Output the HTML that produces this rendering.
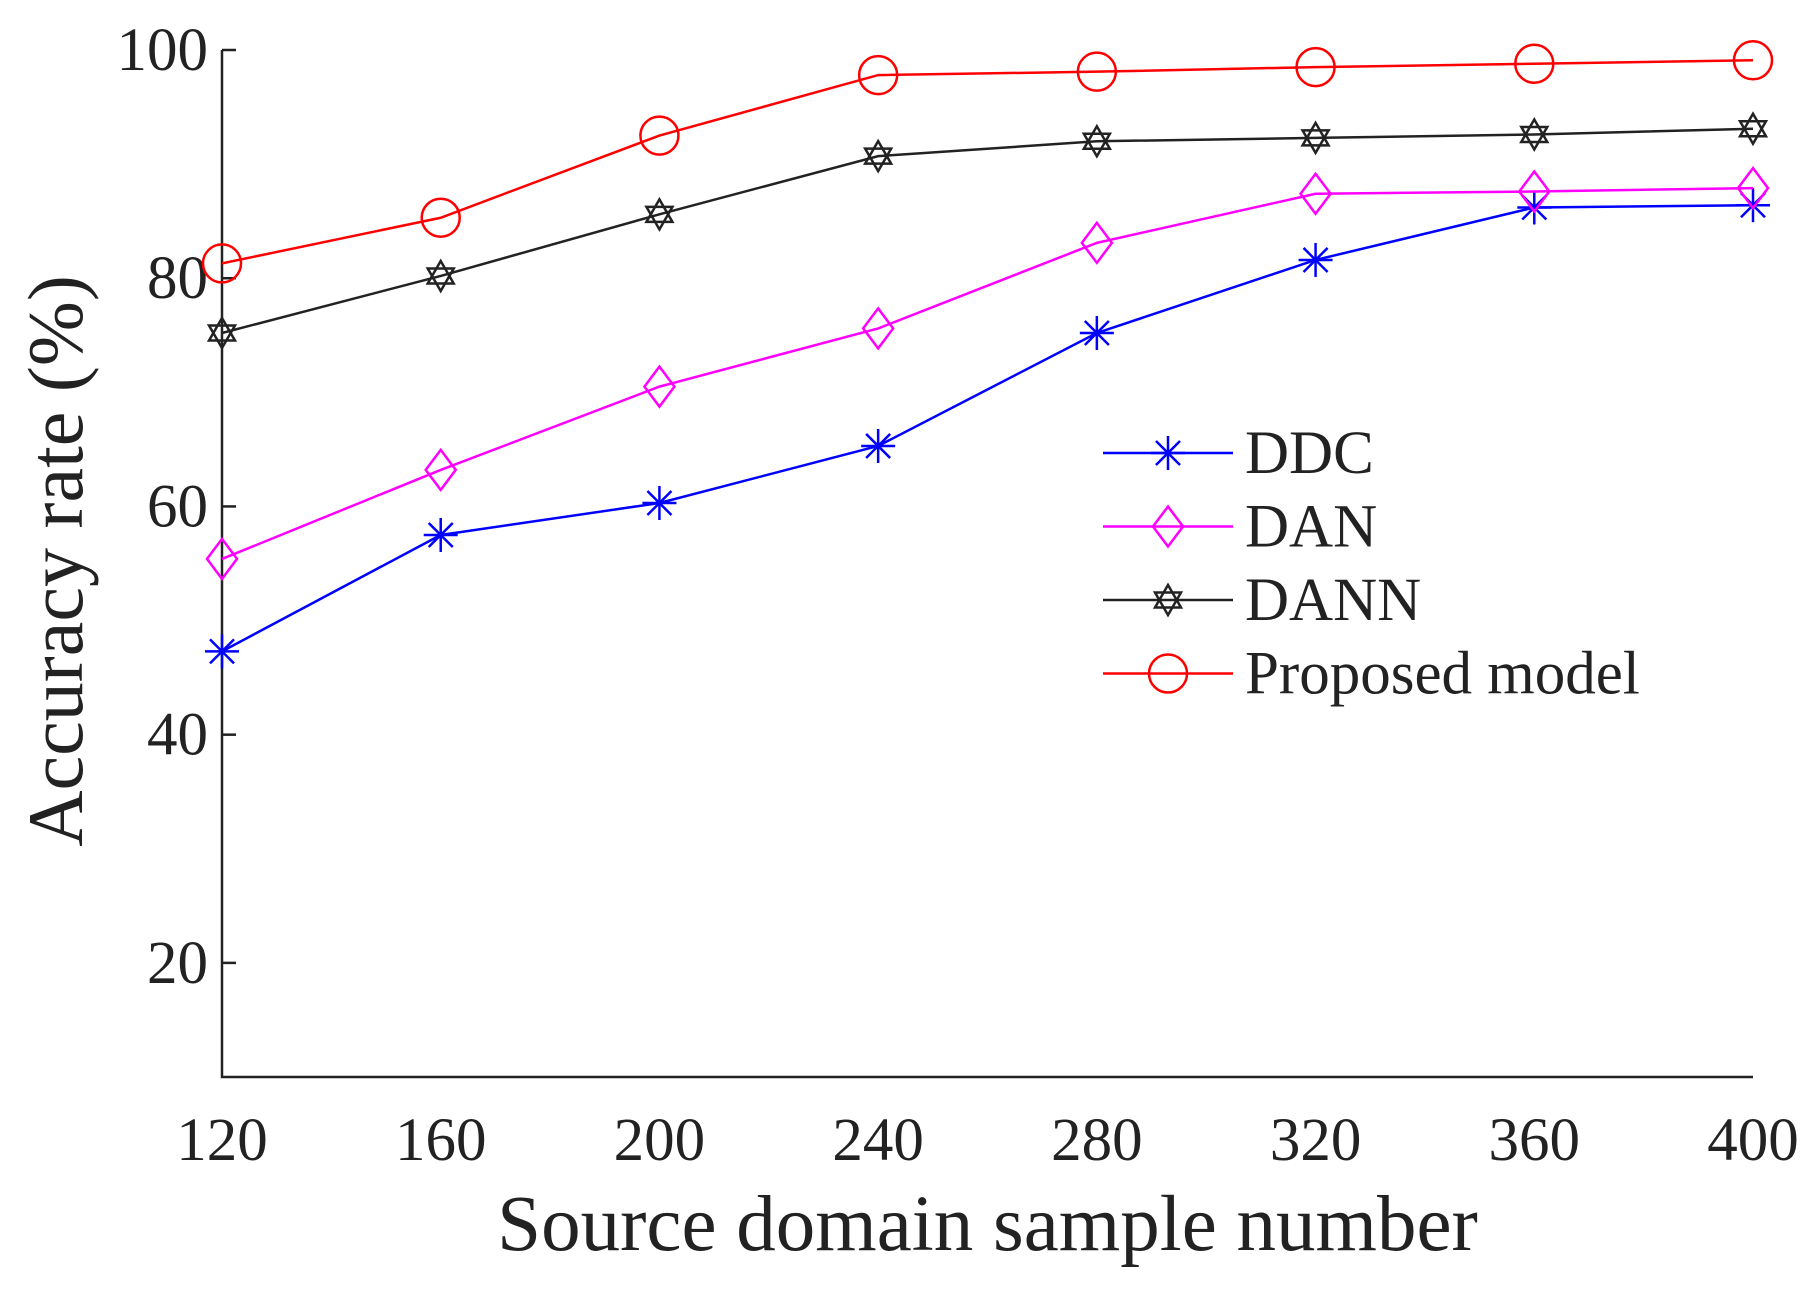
<!DOCTYPE html>
<html><head><meta charset="utf-8"><style>
html,body{margin:0;padding:0;background:#fff;}
svg text{font-family:"Liberation Serif",serif;fill:#222;}
</style></head><body>
<svg id="chart" width="1820" height="1292" viewBox="0 0 1820 1292">
<g id="axes"></g><g id="series"></g><g id="legend"></g>
</svg>
<script>
const categories = [120,160,200,240,280,320,360,400];
const ddc = [47.3,57.5,60.3,65.3,75.2,81.6,86.2,86.4];
const dan = [55.4,63.2,70.5,75.6,83.1,87.4,87.6,87.9];
const dann = [75.2,80.2,85.6,90.7,92.0,92.3,92.6,93.1];
const proposed = [81.3,85.3,92.5,97.8,98.1,98.5,98.8,99.1];
const yTicks = [20,40,60,80,100];
const seriesNames = ["DDC","DAN","DANN","Proposed model"];

const L=222,R=1753,T=50,B=1077,Ymin=10,Ymax=100;
const xs=v=>L+(v-120)/(400-120)*(R-L);
const ys=v=>B-(v-Ymin)/(Ymax-Ymin)*(B-T);
const NS="http://www.w3.org/2000/svg";
function mk(tag,attrs,parent){const e=document.createElementNS(NS,tag);for(const k in attrs)e.setAttribute(k,attrs[k]);parent.appendChild(e);return e;}
const axes=document.getElementById('axes');
let a=mk('path',{d:`M${L},${T}V${B}H${R}`,stroke:'#222','stroke-width':2.5,fill:'none'},axes);


yTicks.forEach(v=>{
 let t=mk('line',{x1:L,x2:L+14,y1:ys(v),y2:ys(v),stroke:'#222','stroke-width':2.5},axes);
 
 
 let tx=mk('text',{x:L-14,y:ys(v)+20,'text-anchor':'end','font-size':61},axes);tx.textContent=v;
 
 
});
categories.forEach(v=>{
 let tx=mk('text',{x:xs(v),y:1160,'text-anchor':'middle','font-size':61},axes);tx.textContent=v;
 
 
});
let xt=mk('text',{x:(L+R)/2,y:1250,'text-anchor':'middle','font-size':79},axes);xt.textContent='Source domain sample number';


let yt=mk('text',{x:0,y:0,'text-anchor':'middle','font-size':78,transform:'translate(82,561) rotate(-90)'},axes);yt.textContent='Accuracy rate (%)';



function marker(type,x,y,color,parent){
 const g=mk('g',{stroke:color,'stroke-width':2.5,fill:'none'},parent);
 if(type==='star'){for(let i=0;i<4;i++){const an=i*Math.PI/4;mk('line',{x1:x-17*Math.cos(an),y1:y-17*Math.sin(an),x2:x+17*Math.cos(an),y2:y+17*Math.sin(an)},g);}}
 else if(type==='diamond'){mk('path',{d:`M${x},${y-20}L${x+15},${y}L${x},${y+20}L${x-15},${y}Z`},g);}
 else if(type==='hex'){const r=15;let p1=[],p2=[];for(let i=0;i<3;i++){let an=-Math.PI/2+i*2*Math.PI/3;p1.push((x+r*Math.cos(an))+','+(y+r*Math.sin(an)));an+=Math.PI;p2.push((x+r*Math.cos(an))+','+(y+r*Math.sin(an)));}mk('polygon',{points:p1.join(' ')},g);mk('polygon',{points:p2.join(' ')},g);}
 else {mk('circle',{cx:x,cy:y,r:19},g);}
 return g;
}
const defs=[[ddc,'#0000ff','star'],[dan,'#ff00ff','diamond'],[dann,'#222222','hex'],[proposed,'#ff0000','circle']];
const sg=document.getElementById('series');
defs.forEach((d,i)=>{
 const [vals,color,m]=d;
 let p=mk('polyline',{points:vals.map((v,j)=>xs(categories[j])+','+ys(v)).join(' '),stroke:color,'stroke-width':2.5,fill:'none'},sg);
 
 
 vals.forEach((v,j)=>{const g=marker(m,xs(categories[j]),ys(v),color,sg);
  
  });
});
const lg=document.getElementById('legend');


defs.forEach((d,i)=>{
 const y=453+i*73.5;
 const g=mk('g',{},lg);
 
 
 mk('line',{x1:1103,x2:1233,y1:y,y2:y,stroke:d[1],'stroke-width':2.5},g);
 marker(d[2],1168,y,d[1],g);
 const t=mk('text',{x:1245,y:y+20,'font-size':61},g);t.textContent=seriesNames[i];
});
</script>
</body></html>
